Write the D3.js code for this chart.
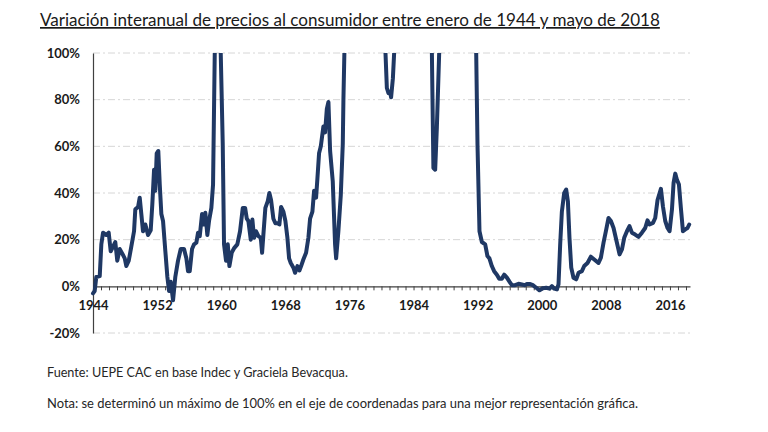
<!DOCTYPE html>
<html>
<head>
<meta charset="utf-8">
<script src="https://cdn.jsdelivr.net/npm/d3@7"></script>
<style>
  html, body { margin: 0; padding: 0; background: #ffffff; }
  svg { display: block; }
</style>
</head>
<body>
<svg id="chart" width="768" height="432"></svg>
<script>
// ---- data ----
const titleText = "Variación interanual de precios al consumidor entre enero de 1944 y mayo de 2018";
const sourceText = "Fuente: UEPE CAC en base Indec y Graciela Bevacqua.";
const noteText = "Nota: se determinó un máximo de 100% en el eje de coordenadas para una mejor representación gráfica.";

const yTicks = [-20, 0, 20, 40, 60, 80, 100];
const xLabelYears = [1944, 1952, 1960, 1968, 1976, 1984, 1992, 2000, 2008, 2016];
const xTickYears = d3.range(1944, 2019);

// decimal year of each reading
const dates = [
  1944.00, 1944.21, 1944.41, 1944.84, 1945.04, 1945.25, 1945.66, 1945.96, 1946.21, 1946.50,
  1946.78, 1947.03, 1947.33, 1947.66, 1947.96, 1948.16, 1948.46, 1948.78, 1949.12, 1949.28,
  1949.62, 1949.83, 1950.03, 1950.24, 1950.53, 1950.87, 1951.20, 1951.40, 1951.62, 1951.78,
  1951.95, 1952.15, 1952.33, 1952.53, 1952.74, 1953.03, 1953.28, 1953.49, 1953.70, 1953.99,
  1954.27, 1954.61, 1954.95, 1955.36, 1955.65, 1955.86, 1956.07, 1956.36, 1956.61, 1956.90,
  1957.11, 1957.32, 1957.61, 1957.86, 1958.02, 1958.27, 1958.48, 1958.77, 1958.98, 1959.19,
  1959.30, 1959.50, 1959.70, 1959.94, 1960.19, 1960.35, 1960.60, 1960.82, 1961.02, 1961.32,
  1961.64, 1962.01, 1962.35, 1962.69, 1962.98, 1963.19, 1963.39, 1963.69, 1963.89, 1964.10,
  1964.35, 1964.64, 1964.94, 1965.10, 1965.26, 1965.51, 1965.81, 1966.01, 1966.22, 1966.51,
  1966.76, 1967.06, 1967.26, 1967.47, 1967.76, 1968.01, 1968.26, 1968.47, 1968.68, 1969.01,
  1969.22, 1969.51, 1969.76, 1969.97, 1970.25, 1970.59, 1970.88, 1971.09, 1971.38, 1971.59,
  1971.84, 1972.00, 1972.21, 1972.43, 1972.75, 1972.96, 1973.18, 1973.38, 1973.59, 1973.92,
  1974.21, 1974.34, 1974.62, 1974.92, 1975.17, 1975.25, 1975.37, 1975.60, 1976.20, 1976.80,
  1977.50, 1978.50, 1979.50, 1980.20, 1980.50, 1980.67, 1980.87, 1981.08, 1981.20, 1981.42,
  1981.58, 1982.00, 1983.00, 1984.00, 1985.00, 1985.50, 1986.29, 1986.48, 1986.70, 1986.91,
  1987.20, 1988.00, 1989.00, 1990.00, 1990.70, 1991.20, 1991.82, 1991.98, 1992.23, 1992.53,
  1992.94, 1993.22, 1993.47, 1993.77, 1994.06, 1994.40, 1994.69, 1995.02, 1995.31, 1995.65,
  1995.97, 1996.27, 1996.68, 1997.10, 1997.52, 1997.85, 1998.14, 1998.56, 1998.89, 1999.31,
  1999.72, 2000.14, 2000.56, 2000.97, 2001.27, 2001.55, 2001.89, 2002.09, 2002.30, 2002.51,
  2002.80, 2003.05, 2003.26, 2003.46, 2003.68, 2003.96, 2004.30, 2004.59, 2005.01, 2005.30,
  2005.71, 2006.13, 2006.55, 2007.08, 2007.38, 2007.71, 2008.05, 2008.33, 2008.63, 2008.96,
  2009.38, 2009.71, 2010.01, 2010.29, 2010.63, 2010.95, 2011.25, 2011.66, 2012.08, 2012.50,
  2012.91, 2013.20, 2013.45, 2013.88, 2014.16, 2014.45, 2014.87, 2015.12, 2015.41, 2015.70,
  2015.95, 2016.25, 2016.45, 2016.66, 2016.87, 2017.12, 2017.36, 2017.62, 2017.91, 2018.19,
  2018.40
];

// year-on-year change, percent
const inflation = [
  -3, -2, 4, 4.4, 18, 23, 22, 23, 15, 17,
  19, 11, 16, 14, 12, 8.7, 11, 17, 23.6, 33,
  34, 38, 31, 23.6, 26.5, 22, 24, 35, 50, 41,
  57, 58, 43.6, 31, 28, 15, 4, -2, 2, -6,
  4, 11, 16, 16, 12, 6.5, 6.5, 16, 18, 18.7,
  23, 21.5, 31, 26.5, 31.5, 22, 28, 33.6, 43.6, 99,
  125, 131, 118, 100, 61, 18, 11, 18, 8.7, 14.5,
  16.5, 18, 23.6, 33.6, 33.6, 29, 28, 20, 28.6, 20.8,
  23.6, 21.5, 20.8, 14.4, 22, 33.6, 36.5, 40, 37, 29,
  27, 27, 26.5, 34, 32, 28, 20.8, 12, 10, 8,
  5.8, 8.7, 6.8, 8.7, 11.5, 14.4, 20.8, 29, 32, 41,
  38, 46, 57, 60, 68.5, 66, 76, 79, 58, 45,
  18, 12, 23.6, 39, 61, 80, 100, 180, 600, 350,
  170, 170, 160, 110, 100, 85, 82.8, 83.5, 81, 89,
  100, 150, 350, 600, 900, 600, 100, 50.7, 50, 68,
  100, 300, 1000, 4000, 700, 150, 100, 61, 23.6, 19,
  18, 13, 12, 8.7, 6.5, 5, 3.3, 3.3, 5, 3.7,
  2, 0.5, 0.5, 1.1, 0.8, 0.5, 1, 1, 0.5, -0.6,
  -1.7, -0.8, -0.6, -1, 0.1, -1, -1.3, 0.8, 18, 32,
  40, 41.5, 36.5, 20.8, 8, 3.7, 3, 5.8, 6.5, 8.7,
  10, 12.7, 11.5, 10, 12.3, 18.7, 24.4, 29.3, 28, 25,
  18.7, 13.7, 15.8, 20.8, 23.6, 25.8, 23, 22.2, 21.2, 23,
  25, 28.3, 26.5, 27.2, 29.3, 37, 41.8, 34.3, 28, 25,
  23.6, 33, 44.3, 48.3, 45.7, 43.6, 33.6, 23.6, 24.4, 25,
  26.5
];

// ---- drawing ----
const svg = d3.select("#chart");
const FONT = "Lato, 'Open Sans', 'DejaVu Sans', sans-serif";

const x = d3.scaleLinear().domain([1944, 2018.5]).range([93, 690]);
const y = d3.scaleLinear().domain([-20, 100]).range([333, 53]);

// helper: fit text to a width by adjusting font size
function fitText(sel, target) {
  let fs = parseFloat(sel.attr("font-size"));
  const w = sel.node().getComputedTextLength();
  if (w > 0) sel.attr("font-size", (fs * target / w).toFixed(2));
}

// title
const title = svg.append("text")
  .attr("x", 40).attr("y", 26)
  .attr("font-family", FONT).attr("font-size", 18)
  .attr("fill", "#1a1a1a")
  .style("text-decoration", "underline")
  .text(titleText);
fitText(title, 620);

// gridlines
svg.append("g").selectAll("line")
  .data(yTicks.filter(d => d !== 0))
  .join("line")
  .attr("x1", 93).attr("x2", 693)
  .attr("y1", d => y(d)).attr("y2", d => y(d))
  .attr("stroke", "#d6d6d6").attr("stroke-width", 1)
  .attr("stroke-dasharray", "7,3,2,3");

// y axis
const yAxis = svg.append("g")
  .attr("transform", "translate(93,0)")
  .call(d3.axisLeft(y).tickValues(yTicks).tickSize(0).tickSizeOuter(0).tickPadding(13)
    .tickFormat(d => d + "%"));
yAxis.select(".domain").attr("stroke", "#404040").attr("stroke-width", 1.2);
yAxis.selectAll("text")
  .attr("font-family", FONT).attr("font-size", 13).attr("font-weight", "bold")
  .attr("fill", "#1a1a1a");

// line (clipped at 100%)
svg.append("defs").append("clipPath").attr("id", "clip")
  .append("rect").attr("x", 80).attr("y", y(100)).attr("width", 640).attr("height", y(-20) - y(100) + 10);

const pts = dates.map((d, i) => [d, inflation[i]]);
const line = d3.line().x(d => x(d[0])).y(d => y(d[1]));

// x axis at 0%
const xAxis = svg.append("g")
  .attr("transform", `translate(0,${y(0)})`)
  .call(d3.axisBottom(x).tickValues(xTickYears).tickSize(4).tickSizeOuter(0).tickPadding(10)
    .tickFormat(d => xLabelYears.includes(d) ? String(d) : ""));
xAxis.select(".domain").attr("stroke", "#404040").attr("stroke-width", 1.2);
xAxis.selectAll(".tick line").attr("stroke", "#404040").attr("stroke-width", 1);
xAxis.selectAll("text")
  .attr("font-family", FONT).attr("font-size", 13).attr("font-weight", "bold")
  .attr("fill", "#1a1a1a");

svg.append("path")
  .datum(pts)
  .attr("clip-path", "url(#clip)")
  .attr("d", line)
  .attr("fill", "none")
  .attr("stroke", "#1f3864")
  .attr("stroke-width", 4)
  .attr("stroke-linejoin", "round")
  .attr("stroke-linecap", "round");

// footnotes
const src = svg.append("text")
  .attr("x", 47).attr("y", 377)
  .attr("font-family", FONT).attr("font-size", 13)
  .attr("fill", "#262626")
  .text(sourceText);
fitText(src, 301);

const note = svg.append("text")
  .attr("x", 47).attr("y", 408)
  .attr("font-family", FONT).attr("font-size", 13)
  .attr("fill", "#262626")
  .text(noteText);
fitText(note, 591);
</script>
</body>
</html>
